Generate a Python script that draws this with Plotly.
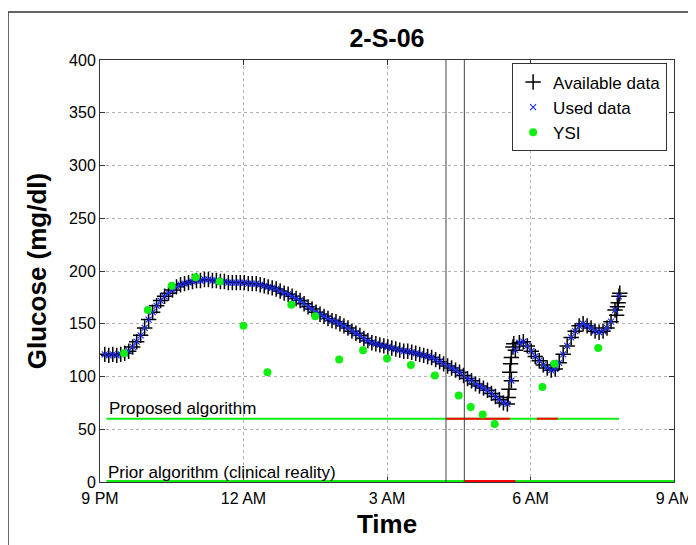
import pandas as pd
import plotly.graph_objects as go

# ---------------- data ----------------
title_text = "2-S-06"
day0 = "2009-01-01"
day1 = "2009-01-02"

# CGM readings (mg/dl), sampled every 5 minutes from 9:06 PM
cgm_values = [
    121, 120, 121, 120, 121, 122, 124, 128, 133, 139,
    146, 154, 161, 167, 172, 176, 179, 182, 185, 187,
    188, 189, 190, 191, 191, 192, 192, 191, 191, 190,
    190, 189, 189, 189, 189, 189, 188, 188, 188, 187,
    186, 185, 184, 183, 181, 179, 178, 176, 174, 172,
    169, 166, 164, 161, 159, 157, 155, 153, 152, 150,
    148, 146, 143, 141, 139, 136, 134, 132, 131, 130,
    129, 128, 127, 126, 125, 124, 124, 123, 122, 121,
    120, 119, 118, 116, 114, 112, 110, 108, 106, 104,
    101, 98, 96, 93, 91, 89, 87, 84, 81, 78,
    75, 74, 96, 125, 132, 133, 129, 124, 119, 115,
    111, 108, 106, 107, 113, 121, 129, 137, 143, 148,
    150, 148, 146, 143, 142, 143, 146, 152, 163, 176,
]
cgm_start = day0 + " 21:06"

# extra raw readings (available but not used) during fast changes
extra_times = [day1 + " 05:32", day1 + " 05:33", day1 + " 05:34", day1 + " 05:35",
               day1 + " 05:36", day1 + " 05:38", day1 + " 05:39",
               day1 + " 07:48", day1 + " 07:49", day1 + " 07:50", day1 + " 07:52"]
extra_values = [80, 88, 104, 112, 118, 128, 131, 158, 166, 170, 179]

# YSI reference measurements
ysi_times = [day0 + " 21:30", day0 + " 22:00", day0 + " 22:30", day0 + " 23:00",
             day0 + " 23:30", day1 + " 00:00", day1 + " 00:30", day1 + " 01:00",
             day1 + " 01:30", day1 + " 02:00", day1 + " 02:30", day1 + " 03:00",
             day1 + " 03:30", day1 + " 04:00", day1 + " 04:30", day1 + " 04:45",
             day1 + " 05:00", day1 + " 05:15", day1 + " 06:15", day1 + " 06:30",
             day1 + " 07:25"]
ysi_values = [122, 163, 186, 194, 190, 148, 104, 168, 157, 116, 125, 117,
              111, 101, 82, 71, 64, 55, 90, 112, 127]

# alarm indicator bars
proposed_level = 60
prior_level = 0
proposed_span = [day0 + " 21:08", day1 + " 07:51"]
prior_span = [day0 + " 21:08", day1 + " 09:00"]
proposed_alarms = [[day1 + " 04:14", day1 + " 05:34"], [day1 + " 06:08", day1 + " 06:34"]]
prior_alarms = [[day1 + " 04:37", day1 + " 05:41"]]
alarm_markers = [day1 + " 04:14", day1 + " 04:37"]

x_ticks = [day0 + " 21:00", day1 + " 00:00", day1 + " 03:00", day1 + " 06:00", day1 + " 09:00"]
x_ticktext = ["9 PM", "12 AM", "3 AM", "6 AM", "9 AM"]
y_ticks = [0, 50, 100, 150, 200, 250, 300, 350, 400]

# ---------------- figure ----------------
cgm_times = pd.date_range(cgm_start, periods=len(cgm_values), freq="5min")
avail = pd.concat([
    pd.Series(cgm_values, index=cgm_times),
    pd.Series(extra_values, index=pd.to_datetime(extra_times)),
]).sort_index()

FONT = "Liberation Sans, Arial, Helvetica, sans-serif"
GREEN = "#11ee11"
RED = "#ff0000"

fig = go.Figure()

# indicator bars
fig.add_trace(go.Scatter(x=proposed_span, y=[proposed_level] * 2, mode="lines",
                         line=dict(color=GREEN, width=2), showlegend=False,
                         hoverinfo="skip", cliponaxis=False))
for a in proposed_alarms:
    fig.add_trace(go.Scatter(x=a, y=[proposed_level] * 2, mode="lines",
                             line=dict(color=RED, width=2), showlegend=False,
                             hoverinfo="skip", cliponaxis=False))
fig.add_trace(go.Scatter(x=prior_span, y=[prior_level] * 2, mode="lines",
                         line=dict(color=GREEN, width=4), showlegend=False,
                         hoverinfo="skip", cliponaxis=False))
for a in prior_alarms:
    fig.add_trace(go.Scatter(x=a, y=[prior_level] * 2, mode="lines",
                             line=dict(color=RED, width=4), showlegend=False,
                             hoverinfo="skip", cliponaxis=False))

fig.add_trace(go.Scatter(
    x=avail.index, y=avail.values, mode="markers", name="Available data",
    marker=dict(symbol="cross-thin", size=11, line=dict(color="black", width=1.5), color="black"),
))
fig.add_trace(go.Scatter(
    x=cgm_times, y=cgm_values, mode="markers", name="Used data",
    marker=dict(symbol="x-thin", size=6, line=dict(color="#1a2cff", width=1.1), color="#1a2cff"),
))
fig.add_trace(go.Scatter(
    x=ysi_times, y=ysi_values, mode="markers", name="YSI",
    marker=dict(symbol="circle", size=8, color=GREEN),
))

for t in alarm_markers:
    fig.add_vline(x=t, line=dict(color="#444444", width=1))

fig.add_annotation(x=day0 + " 21:09", y=70, text="Proposed algorithm", showarrow=False,
                   xanchor="left", yanchor="middle", font=dict(family=FONT, size=17, color="black"))
fig.add_annotation(x=day0 + " 21:08", y=9, text="Prior algorithm (clinical reality)", showarrow=False,
                   xanchor="left", yanchor="middle", font=dict(family=FONT, size=17, color="black"))

# figure frame
fig.add_shape(type="rect", xref="paper", yref="paper", x0=-0.1603, x1=1.0279, y0=-0.2, y1=1.1137,
              line=dict(color="#333333", width=1.5), fillcolor="rgba(0,0,0,0)", layer="below")

axis_common = dict(showline=True, linecolor="#333333", linewidth=1, mirror="ticks",
                   ticks="inside", ticklen=5, tickcolor="#333333",
                   showgrid=True, gridcolor="#b0b0b0", griddash="dot", gridwidth=1,
                   zeroline=False, tickfont=dict(family=FONT, size=16, color="black"),
                   layer="below traces")

# the page adds an 8px body margin, so the figure is sized 8px smaller
fig.update_layout(
    width=688, height=537,
    margin=dict(l=92, r=22, t=52, b=63, autoexpand=False),
    paper_bgcolor="white", plot_bgcolor="white",
    font=dict(family=FONT, color="black"),
    title=dict(text="<b>" + title_text + "</b>", x=0.5, xref="paper", y=1 - 30 / 537,
               yanchor="middle", xanchor="center", font=dict(family=FONT, size=25, color="black")),
    xaxis=dict(type="date", range=[x_ticks[0], x_ticks[-1]], tickvals=x_ticks, ticktext=x_ticktext,
               ticklabelstandoff=2,
               title=dict(text="<b>Time</b>", font=dict(family=FONT, size=26, color="black"), standoff=8),
               **axis_common),
    yaxis=dict(range=[0, 400], tickvals=y_ticks,
               title=dict(text="<b>Glucose (mg/dl)</b>", font=dict(family=FONT, size=26, color="black"), standoff=14),
               **axis_common),
    legend=dict(x=0.988, y=0.992, xanchor="right", yanchor="top", bgcolor="white",
                bordercolor="#333333", borderwidth=1, font=dict(family=FONT, size=17, color="black"),
                itemsizing="trace"),
    showlegend=True,
)

fig.write_html("out.html")
